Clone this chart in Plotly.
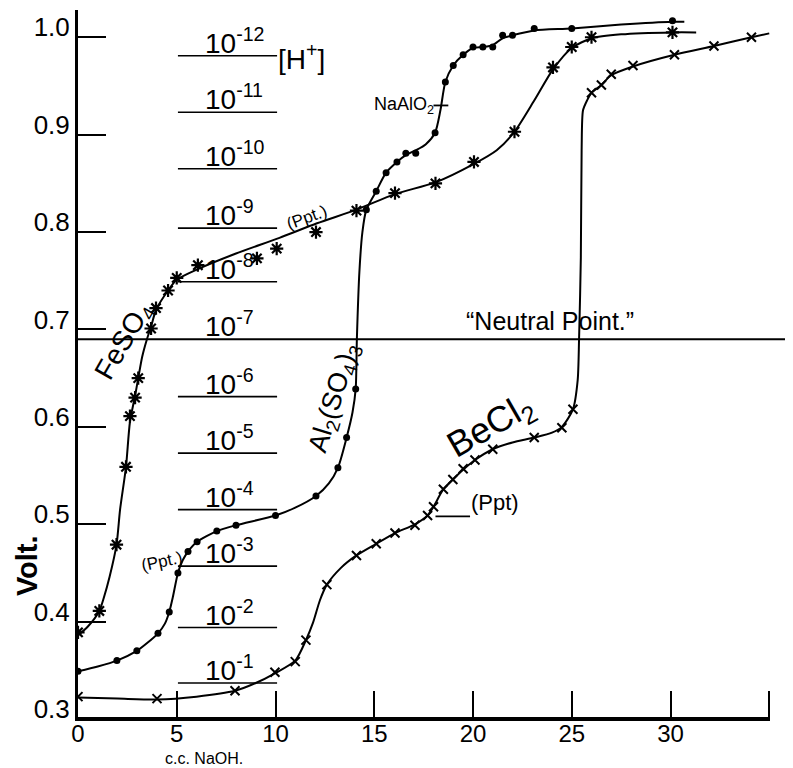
import plotly.graph_objects as go

# ---------------- data ----------------
# FeSO4 (asterisks)
fe_x = [0, 1.08, 1.95, 2.43, 2.63, 2.89, 3.05, 3.70, 3.95, 4.56, 5.0, 6.07, 9.06, 10.06,
        12.05, 14.1, 16.05, 18.1, 20.05, 22.1, 24.05, 25.0, 26.0, 30.1]
fe_v = [0.389, 0.411, 0.479, 0.559, 0.611, 0.630, 0.650, 0.701, 0.722, 0.740, 0.753, 0.766, 0.773, 0.783,
        0.800, 0.822, 0.840, 0.850, 0.872, 0.903, 0.969, 0.990, 1.000, 1.005]
fe_curve_x = [0, 0.5, 1.08, 1.3, 1.6, 1.95, 2.13, 2.43, 2.63, 2.89, 3.05, 3.25, 3.49, 3.7, 3.95, 4.56, 5.0,
              6.07, 8.0, 10.2, 12.1, 14.1, 16.05, 18.1, 20.05, 21.2, 22.1, 23.1, 24.05, 25.0, 26.0,
              27.5, 30.1, 31.3]
fe_curve_v = [0.386, 0.395, 0.411, 0.424, 0.446, 0.479, 0.515, 0.559, 0.605, 0.632, 0.650, 0.672, 0.690,
              0.703, 0.720, 0.740, 0.751, 0.762, 0.778, 0.794, 0.809, 0.823, 0.839, 0.851, 0.870, 0.884,
              0.903, 0.935, 0.967, 0.989, 0.999, 1.003, 1.005, 1.005]

# Al2(SO4)3 (dots)
al_x = [0, 1.97, 2.98, 4.05, 4.62, 5.06, 5.57, 6.03, 7.03, 8.0, 10.0, 12.05, 13.16, 13.6, 14.06,
        14.6, 15.1, 15.6, 16.15, 16.6, 17.1, 18.08, 18.6, 19.0, 19.5, 20.0, 20.5, 21.0, 21.5, 22.0,
        23.1, 25.0, 30.1]
al_v = [0.349, 0.360, 0.370, 0.388, 0.410, 0.450, 0.472, 0.482, 0.493, 0.499, 0.509, 0.529, 0.558,
        0.589, 0.639, 0.823, 0.842, 0.861, 0.872, 0.881, 0.881, 0.902, 0.954, 0.971, 0.982, 0.990,
        0.990, 0.990, 1.002, 1.002, 1.009, 1.009, 1.017]
al_curve_x = [0, 1.0, 1.97, 2.98, 3.5, 4.05, 4.4, 4.62, 4.8, 5.06, 5.3, 5.57, 6.03, 7.03, 8.0, 10.0,
              11.0, 12.05, 12.7, 13.16, 13.6, 13.9, 14.06, 14.12, 14.25, 14.4, 14.6, 15.1, 15.6, 16.15,
              16.6, 17.1, 17.6, 18.08, 18.35, 18.6, 19.0, 19.5, 20.0, 20.5, 21.0, 21.5, 22.0, 23.1,
              25.0, 27.5, 30.1, 30.7]
al_curve_v = [0.349, 0.354, 0.360, 0.370, 0.378, 0.388, 0.398, 0.410, 0.425, 0.450, 0.463, 0.472,
              0.482, 0.493, 0.499, 0.509, 0.517, 0.529, 0.542, 0.558, 0.589, 0.615, 0.639, 0.690,
              0.760, 0.800, 0.823, 0.842, 0.861, 0.872, 0.879, 0.884, 0.890, 0.902, 0.925, 0.954,
              0.971, 0.982, 0.989, 0.990, 0.992, 0.999, 1.002, 1.007, 1.009, 1.013, 1.016, 1.016]

# BeCl2 (crosses)
be_x = [0, 4.0, 7.95, 9.97, 11.0, 11.54, 12.6, 14.1, 15.1, 16.05, 17.06, 17.7, 18.0, 18.5, 18.98,
        19.5, 20.1, 21.0, 23.1, 24.5, 25.06, 26.0, 26.5, 27.0, 28.1, 30.2, 32.2, 34.1]
be_v = [0.323, 0.321, 0.329, 0.348, 0.359, 0.381, 0.438, 0.468, 0.480, 0.491, 0.499, 0.509, 0.518,
        0.536, 0.546, 0.557, 0.566, 0.577, 0.589, 0.599, 0.618, 0.943, 0.951, 0.962, 0.971, 0.982,
        0.991, 1.000]
be_curve_x = [0, 2.0, 4.0, 6.0, 7.95, 9.0, 9.97, 11.0, 11.54, 11.9, 12.25, 12.6, 13.3, 14.1, 15.1,
              16.05, 17.06, 17.7, 18.0, 18.5, 18.98, 19.5, 20.1, 21.0, 22.0, 23.1, 24.0, 24.5, 25.06,
              25.3, 25.37, 25.46, 25.5, 25.57, 25.77, 26.0, 26.5, 27.0, 28.1, 30.2, 32.2, 34.1, 35.0]
be_curve_v = [0.322, 0.321, 0.320, 0.323, 0.329, 0.337, 0.347, 0.360, 0.381, 0.399, 0.422, 0.438,
              0.455, 0.468, 0.480, 0.491, 0.500, 0.509, 0.518, 0.536, 0.546, 0.556, 0.566, 0.577,
              0.584, 0.589, 0.594, 0.600, 0.618, 0.648, 0.690, 0.774, 0.884, 0.925, 0.935, 0.943,
              0.951, 0.961, 0.970, 0.982, 0.991, 1.000, 1.004]

# [H+] scale
h_exponents = [-12, -11, -10, -9, -8, -7, -6, -5, -4, -3, -2, -1]
h_volts = [0.981, 0.923, 0.865, 0.804, 0.749, 0.690, 0.631, 0.573, 0.515, 0.457, 0.394, 0.337]
h_line_x = [5.06, 10.08]
neutral_volt = 0.690

# axes
y_tick_vals = [0.3, 0.4, 0.5, 0.6, 0.7, 0.8, 0.9, 1.0]
y_tick_text = ["0.3", "0.4", "0.5", "0.6", "0.7", "0.8", "0.9", "1.0"]
x_tick_vals = [0, 5, 10, 15, 20, 25, 30, 35]
x_tick_text = ["0", "5", "10", "15", "20", "25", "30", ""]
x_axis_end = 35
x_range = [0, 36]
y_range = [0.298, 1.028]

FONT = "Liberation Sans Narrow, Liberation Sans, Arial, sans-serif"
INK = "black"

fig = go.Figure()

# [H+] scale lines (except 10^-7 which is the neutral line)
hx, hy = [], []
for e, v in zip(h_exponents, h_volts):
    if e == -7:
        continue
    hx += [h_line_x[0], h_line_x[1], None]
    hy += [v, v, None]
fig.add_trace(go.Scatter(x=hx, y=hy, mode="lines", line=dict(color=INK, width=1.6),
                         hoverinfo="skip"))

# neutral point line
fig.add_trace(go.Scatter(x=[x_range[0], x_range[1]], y=[neutral_volt, neutral_volt], mode="lines",
                         line=dict(color=INK, width=2), hoverinfo="skip"))

# x axis line (stops at 35)
fig.add_trace(go.Scatter(x=[0, x_axis_end], y=[0.3, 0.3], mode="lines",
                         line=dict(color=INK, width=4), hoverinfo="skip"))

# curves
for cx, cv in [(fe_curve_x, fe_curve_v), (al_curve_x, al_curve_v), (be_curve_x, be_curve_v)]:
    fig.add_trace(go.Scatter(x=cx, y=cv, mode="lines",
                             line=dict(color=INK, width=2, shape="spline", smoothing=0.7),
                             hoverinfo="skip"))

# markers
fig.add_trace(go.Scatter(x=fe_x, y=fe_v, mode="markers", name="FeSO4",
                         marker=dict(symbol="asterisk-open", size=11, color=INK,
                                     line=dict(color=INK, width=2.2))))
fig.add_trace(go.Scatter(x=al_x, y=al_v, mode="markers", name="Al2(SO4)3",
                         marker=dict(symbol="circle", size=7, color=INK)))
fig.add_trace(go.Scatter(x=be_x, y=be_v, mode="markers", name="BeCl2",
                         marker=dict(symbol="x-thin-open", size=9, color=INK,
                                     line=dict(color=INK, width=2))))

# leader lines for labels
leader_ppt_be = dict(x=[18.1, 19.85], y=[0.508, 0.508])
leader_naalo2 = dict(x=[18.0, 18.75], y=[0.930, 0.930])
for ld in (leader_ppt_be, leader_naalo2):
    fig.add_trace(go.Scatter(x=ld["x"], y=ld["y"], mode="lines", line=dict(color=INK, width=1.8),
                             hoverinfo="skip"))

annotations = []
for e, v in zip(h_exponents, h_volts):
    annotations.append(dict(x=6.33, y=v, xref="x", yref="y", text=f"10<sup>{e}</sup>",
                            showarrow=False, xanchor="left", yanchor="bottom", yshift=-5,
                            font=dict(family=FONT, size=28, color=INK)))

labels = [
    # text, x, y, angle, size
    ("FeSO<sub>4</sub>", 2.35, 0.688, -60, 28),
    ("Al<sub>2</sub>(SO<sub>4</sub>)<sub>3</sub>", 13.0, 0.630, -73, 27),
    ("BeCl<sub>2</sub>", 20.9, 0.600, -30, 36),
    ("(Ppt.)", 11.6, 0.815, -20, 17),
    ("(Ppt.)", 4.25, 0.462, -12, 17),
    ("(Ppt)", 21.1, 0.522, 0, 22),
    ("NaAlO<sub>2</sub>", 16.5, 0.930, 0, 18),
    ("[H<sup>+</sup>]", 11.34, 0.980, 0, 28),
    ("\u201cNeutral Point.\u201d", 23.9, 0.709, 0, 25),
]
for t, x, y, a, s in labels:
    annotations.append(dict(x=x, y=y, xref="x", yref="y", text=t, showarrow=False,
                            xanchor="center", yanchor="middle",
                            textangle=a, font=dict(family=FONT, size=s, color=INK)))

annotations.append(dict(x=-0.072, y=0.219, xref="paper", yref="paper", text="<b>Volt.</b>",
                        showarrow=False, textangle=-90, xanchor="center", yanchor="middle",
                        font=dict(family=FONT, size=29, color=INK)))
annotations.append(dict(x=6.4, y=-0.0525, xref="x", yref="paper", text="c.c. NaOH.",
                        showarrow=False, xanchor="center", yanchor="middle",
                        font=dict(family=FONT, size=16, color=INK)))

fig.update_layout(
    width=785, height=760,
    margin=dict(l=70, r=4, t=2, b=47),
    paper_bgcolor="white", plot_bgcolor="white",
    showlegend=False,
    annotations=annotations,
    xaxis=dict(range=x_range, tickvals=x_tick_vals, ticktext=x_tick_text, ticks="inside",
               ticklen=30, tickwidth=2, tickcolor=INK, showline=False, showgrid=False,
               zeroline=False, ticklabelstandoff=-4,
               tickfont=dict(family=FONT, size=24, color=INK)),
    yaxis=dict(range=y_range, tickvals=y_tick_vals, ticktext=y_tick_text, ticks="inside",
               ticklen=28, tickwidth=2, tickcolor=INK, showline=True, linewidth=3,
               linecolor=INK, showgrid=False, zeroline=False, ticklabelshift=-10,
               tickfont=dict(family=FONT, size=26, color=INK)),
)

fig.write_html("out.html")
